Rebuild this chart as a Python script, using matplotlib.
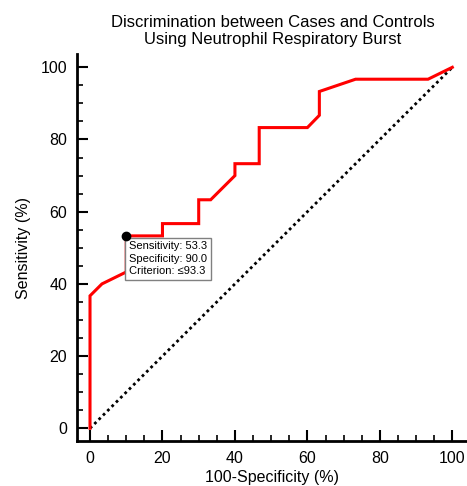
import matplotlib
matplotlib.use("Agg")
import matplotlib.pyplot as plt

plt.rcParams['font.family'] = ['Liberation Sans', 'DejaVu Sans']

# ROC curve data (100-Specificity, Sensitivity)
fpr = [0, 0, 3.3, 10.0, 10.0, 20.0, 20.0, 30.0, 30.0, 33.3, 40.0, 40.0, 46.7, 46.7,
       60.0, 63.3, 63.3, 73.3, 93.3, 100]
tpr = [0, 36.7, 40.0, 43.3, 53.3, 53.3, 56.7, 56.7, 63.3, 63.3, 70.0, 73.3, 73.3, 83.3,
       83.3, 86.7, 93.3, 96.7, 96.7, 100]
ref_line = [0, 100]
opt_point = (10.0, 53.3)
opt_text = ["Sensitivity: 53.3", "Specificity: 90.0", "Criterion: \u226493.3"]
major_ticks = list(range(0, 101, 20))
minor_ticks = [v for v in range(0, 101, 5) if v % 20]

fig = plt.figure(figsize=(4.67, 4.86), dpi=100)
ax = fig.add_axes([77/467, 1-441/486, 1-77/467, (441-54.3)/486])

ax.plot(ref_line, ref_line, color='black', linestyle=(0, (1, 1.2)), linewidth=2)
ax.plot(fpr, tpr, color='#ff0000', linewidth=2.2, solid_joinstyle='miter')
ax.plot([opt_point[0]], [opt_point[1]], 'o', color='black', markersize=6, zorder=5)

ax.annotate("\n".join(opt_text), xy=opt_point, xytext=(2, -4), textcoords='offset points',
            ha='left', va='top', fontsize=8, linespacing=1.3,
            bbox=dict(boxstyle='square,pad=0.35', facecolor='white', edgecolor='#808080', linewidth=1))

ax.set_xlim(-3.59, 104.05)
ax.set_ylim(-3.52, 103.6)
for s in ['top', 'right']:
    ax.spines[s].set_visible(False)
for s in ['left', 'bottom']:
    ax.spines[s].set_linewidth(2)

ax.set_xticks(major_ticks)
ax.set_yticks(major_ticks)
ax.set_xticks(minor_ticks, minor=True)
ax.set_yticks(minor_ticks, minor=True)
ax.tick_params(which='major', direction='in', length=8, width=1.5, labelsize=11.5, pad=7)
ax.tick_params(which='minor', direction='in', length=4, width=1.2)

ax.set_xlabel("100-Specificity (%)", fontsize=11.5, labelpad=3)
ax.set_ylabel("Sensitivity (%)", fontsize=11.5, labelpad=7)

fig.text(273/467, 1-31/486, "Discrimination between Cases and Controls\nUsing Neutrophil Respiratory Burst",
         ha='center', va='center', fontsize=12, linespacing=1.1)

fig.savefig("out.png", dpi=100)
